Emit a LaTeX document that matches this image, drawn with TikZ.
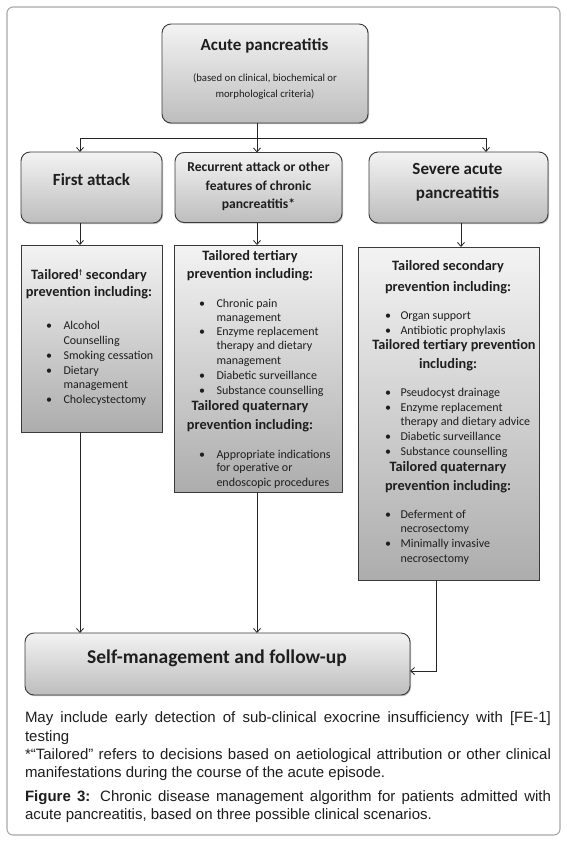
\documentclass[tikz,border=0pt]{standalone}
\usepackage{fontspec}
\setmainfont{Carlito}
\newfontfamily\capfont{Liberation Sans}
\usetikzlibrary{arrows.meta,shadows}
\definecolor{gtop}{HTML}{F3F3F3}
\definecolor{gbot}{HTML}{BDBDBD}
\definecolor{gbotb}{HTML}{ADADAD}
\definecolor{boxline}{HTML}{3A3A3A}
\definecolor{framec}{HTML}{A8A8A8}
\definecolor{txt}{HTML}{1E1E1E}
\newcommand\myhd[4]{\node[hdg, anchor=mid] (#1) at (#2,#3) {#4};}
\newcommand\mybi[5]{\node[itm, anchor=mid west] (#1b) at (#2,#4) {•};
  \node[itm, anchor=mid west] (#1) at (#3,#4) {#5};}
\newcommand\mybc[4]{\node[itm, anchor=mid west] (#1) at (#2,#3) {#4};}
\begin{document}
\begin{tikzpicture}[x=1pt, y=-1pt,
  every node/.style={inner sep=0pt, outer sep=0pt},
  shad/.style={drop shadow={shadow xshift=1pt, shadow yshift=-1.2pt, opacity=0.25, fill=black}},
  rbox/.style={draw=boxline, line width=0.9pt, rounded corners=9pt, top color=gtop, bottom color=gbot, shad},
  sbox/.style={draw=boxline, line width=0.9pt, top color=gtop, bottom color=gbotb, shad},
  framebox/.style={draw=framec, line width=1.1pt, rounded corners=6pt, fill=white},
  ln/.style={line width=0.8pt, draw=black!85},
  arr/.style={ln, -{Straight Barb[length=4pt,width=7pt]}},
  ttl/.style={font=\fontsize{17}{20}\selectfont\bfseries, text=txt},
  subt/.style={font=\fontsize{10.7}{13}\selectfont, text=txt},
  rct/.style={font=\fontsize{13.6}{16}\selectfont\bfseries, text=txt},
  hdg/.style={font=\fontsize{14.3}{17}\selectfont\bfseries, text=txt},
  itm/.style={font=\fontsize{12}{14}\selectfont, text=txt},
  slf/.style={font=\fontsize{19.5}{23}\selectfont\bfseries, text=txt},
  captxt/.style={font=\capfont\fontsize{15}{18.2}\selectfont, text=txt}]
\useasboundingbox (0,0) rectangle (567,844);
\fill[white] (0,0) rectangle (567,844);
\node[framebox, minimum width=553pt, minimum height=828pt] (frame) at (283.5,421) {};

% top row boxes
\node[rbox, minimum width=206pt, minimum height=99pt] (acute) at (265,73.5) {};
\node[rbox, minimum width=141pt, minimum height=71pt] (first) at (91.5,187.5) {};
\node[rbox, minimum width=167pt, minimum height=70pt] (recur) at (258.5,187.5) {};
\node[rbox, minimum width=179pt, minimum height=71pt] (severe) at (458.5,187.5) {};
% content boxes
\node[sbox, minimum width=141pt, minimum height=187pt] (box1) at (91.5,338.5) {};
\node[sbox, minimum width=168pt, minimum height=247pt] (box2) at (258,368.5) {};
\node[sbox, minimum width=181pt, minimum height=333pt] (box3) at (448.5,413.5) {};
% bottom box
\node[rbox, minimum width=385pt, minimum height=62pt] (self) at (217.5,664) {};

% texts of top boxes
\node[ttl, anchor=mid] (tacute) at (264.5,48) {Acute pancreatitis};
\node[subt, anchor=mid] (sacute1) at (265,79) {(based on clinical, biochemical or};
\node[subt, anchor=mid] (sacute2) at (265,95) {morphological criteria)};
\node[ttl, anchor=mid] (tfirst) at (91.5,183) {First attack};
\node[rct, anchor=mid] (trec1) at (258.5,169) {Recurrent attack or other};
\node[rct, anchor=mid] (trec2) at (258.5,188) {features of chronic};
\node[rct, anchor=mid] (trec3) at (258.5,206) {pancreatitis*};
\node[ttl, anchor=mid] (tsev1) at (457.5,172) {Severe acute};
\node[ttl, anchor=mid] (tsev2) at (457.5,196) {pancreatitis};
\node[slf, anchor=mid] (tself) at (217,661) {Self-management and follow-up};

% box 1
\myhd{h1a}{89}{277}{Tailored\textsuperscript{\scriptsize †} secondary}
\myhd{h1b}{89}{294}{prevention including:}
\mybi{i1a}{46}{63.5}{327}{Alcohol}
\mybc{i1a2}{63.5}{342}{Counselling}
\mybi{i1b}{46}{63.5}{357}{Smoking cessation}
\mybi{i1c}{46}{63.5}{372}{Dietary}
\mybc{i1c2}{63.5}{386}{management}
\mybi{i1d}{46}{63.5}{401}{Cholecystectomy}

% box 2
\myhd{h2a}{250}{258}{Tailored tertiary}
\myhd{h2b}{250}{276}{prevention including:}
\mybi{i2a}{199}{216.5}{305}{Chronic pain}
\mybc{i2a2}{216.5}{319}{management}
\mybi{i2b}{199}{216.5}{333}{Enzyme replacement}
\mybc{i2b2}{216.5}{347}{therapy and dietary}
\mybc{i2b3}{216.5}{362}{management}
\mybi{i2c}{199}{216.5}{377}{Diabetic surveillance}
\mybi{i2d}{199}{216.5}{392}{Substance counselling}
\myhd{h2c}{250}{408}{Tailored quaternary}
\myhd{h2d}{250}{427}{prevention including:}
\mybi{i2e}{199}{216.5}{456}{Appropriate indications}
\mybc{i2e2}{216.5}{469}{for operative or}
\begin{scope}
\clip (box2.north west) rectangle ([yshift=0.6pt]box2.south east);
\mybc{i2e3}{216.5}{484}{endoscopic procedures}
\end{scope}

% box 3
\myhd{h3a}{448}{268}{Tailored secondary}
\myhd{h3b}{448}{289}{prevention including:}
\mybi{i3a}{385}{400.5}{317}{Organ support}
\mybi{i3b}{385}{400.5}{332}{Antibiotic prophylaxis}
\myhd{h3c}{454}{347}{Tailored tertiary prevention}
\myhd{h3d}{448}{366}{including:}
\mybi{i3c}{385}{400.5}{394}{Pseudocyst drainage}
\mybi{i3d}{385}{400.5}{409}{Enzyme replacement}
\mybc{i3d2}{400.5}{423}{therapy and dietary advice}
\mybi{i3e}{385}{400.5}{438}{Diabetic surveillance}
\mybi{i3f}{385}{400.5}{453}{Substance counselling}
\myhd{h3e}{448}{469}{Tailored quaternary}
\myhd{h3f}{448}{488}{prevention including:}
\mybi{i3g}{385}{400.5}{516}{Deferment of}
\mybc{i3g2}{400.5}{530}{necrosectomy}
\mybi{i3h}{385}{400.5}{545}{Minimally invasive}
\mybc{i3h2}{400.5}{560}{necrosectomy}

% connectors
\coordinate (split) at (257,138);
\coordinate (xA) at (80,0);
\coordinate (xC) at (486,0);
\coordinate (xS) at (461,0);
\coordinate (xD) at (436,0);
\coordinate (yE) at (0,671);
\draw[ln] (acute.south -| split) -- (split);
\draw[arr] (split) -- (recur.north -| split);
\draw[arr] (split) -| (xA |- first.north);
\draw[arr] (split) -| (xC |- severe.north);
\draw[arr] (xA |- first.south) -- (xA |- box1.north);
\draw[arr] (recur.south -| split) -- (box2.north -| split);
\draw[arr] (xS |- severe.south) -- (xS |- box3.north);
\draw[arr] (xA |- box1.south) -- (xA |- self.north);
\draw[arr] (box2.south -| split) -- (self.north -| split);
\draw[arr] (xD |- box3.south) |- (self.east |- yE);

% caption
\node[captxt, text width=526pt, align=justify, anchor=north west] (caption) at (25,712) {%
\noindent May include early detection of sub-clinical exocrine insufficiency with [FE-1]\linebreak testing\par
\noindent *“Tailored” refers to decisions based on aetiological attribution or other clinical\linebreak manifestations during the course of the acute episode.\par
\vspace{6pt}
\noindent\textbf{Figure 3:} Chronic disease management algorithm for patients admitted with\linebreak acute pancreatitis, based on three possible clinical scenarios.\par};
\end{tikzpicture}
\end{document}
